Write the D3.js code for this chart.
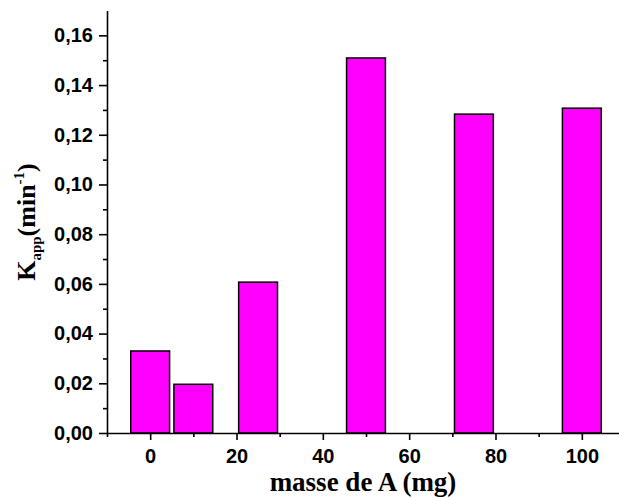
<!DOCTYPE html>
<html>
<head>
<meta charset="utf-8">
<script src="https://cdn.jsdelivr.net/npm/d3@7"></script>
<style>
  body { margin: 0; background: #fff; }
  .axis path, .axis line { stroke: #000; stroke-width: 1.6px; }
  .axis text { font-family: "Liberation Sans", Arial, sans-serif; font-weight: bold; font-size: 20px; fill: #000; }
  .title { font-family: "Liberation Serif", "Times New Roman", serif; font-weight: bold; fill: #000; }
</style>
</head>
<body>
<div class="graph"></div>
<script>
// data
var masses = [0, 10, 25, 50, 75, 100];
var kapp   = [0.0330, 0.0196, 0.0607, 0.1509, 0.1283, 0.1307];
var xTicks = [0, 20, 40, 60, 80, 100];
var yTicks = [0, 0.02, 0.04, 0.06, 0.08, 0.10, 0.12, 0.14, 0.16];

var margin = {top: 10.5, left: 107},
    width  = 518,
    height = 433 - margin.top;

var svg = d3.select(".graph").append("svg")
    .attr("width", 619)
    .attr("height", 498);

var g = svg.append("g")
    .attr("transform", "translate(" + margin.left + "," + margin.top + ")");

var x = d3.scaleLinear().domain([-10, 110]).range([0, width]);
var y = d3.scaleLinear().domain([0, 0.17]).range([height, 0]);

var barW = 9; // in x units

var data = masses.map(function(m, i) { return {m: m, v: kapp[i]}; });

g.selectAll(".bar")
    .data(data)
  .enter().append("rect")
    .attr("class", "bar")
    .attr("x", function(d) { return x(d.m - barW / 2); })
    .attr("width", function(d) { return x(d.m + barW / 2) - x(d.m - barW / 2); })
    .attr("y", function(d) { return y(d.v); })
    .attr("height", function(d) { return y(0) - y(d.v); })
    .attr("fill", "#ff00ff")
    .attr("stroke", "#000")
    .attr("stroke-width", 1.5);

// minor ticks
var xMinor = d3.range(-10, 111, 20);
var yMinor = d3.range(0.01, 0.17, 0.02);

g.append("g")
    .attr("class", "x axis")
    .attr("transform", "translate(0," + height + ")")
    .call(d3.axisBottom(x).tickValues(xMinor).tickSize(4).tickSizeOuter(0).tickFormat(""));

g.append("g")
    .attr("class", "x axis")
    .attr("transform", "translate(0," + height + ")")
    .call(d3.axisBottom(x).tickValues(xTicks).tickSize(7).tickSizeOuter(0).tickPadding(9))
    .call(function(a) { a.select(".domain").remove(); });

g.append("g")
    .attr("class", "y axis")
    .call(d3.axisLeft(y).tickValues(yMinor).tickSize(4).tickSizeOuter(0).tickFormat(""));

g.append("g")
    .attr("class", "y axis")
    .call(d3.axisLeft(y).tickValues(yTicks).tickSize(8).tickSizeOuter(0).tickPadding(6)
        .tickFormat(function(d) { return d3.format(".2f")(d).replace(".", ","); }))
    .call(function(a) { a.select(".domain").remove(); });

// axis titles
svg.append("text")
    .attr("class", "title")
    .attr("x", 363)
    .attr("y", 491)
    .attr("text-anchor", "middle")
    .style("font-size", "27px")
    .text("masse de A (mg)");

var yl = svg.append("text")
    .attr("class", "title")
    .attr("transform", "translate(35,222) rotate(-90)")
    .attr("text-anchor", "middle")
    .style("font-size", "26px");
yl.append("tspan").text("K");
yl.append("tspan").attr("dy", 6).style("font-size", "15px").text("app");
yl.append("tspan").attr("dy", -6).text("(min");
yl.append("tspan").attr("dy", -11).style("font-size", "15px").text("-1");
yl.append("tspan").attr("dy", 11).text(")");
</script>
</body>
</html>
